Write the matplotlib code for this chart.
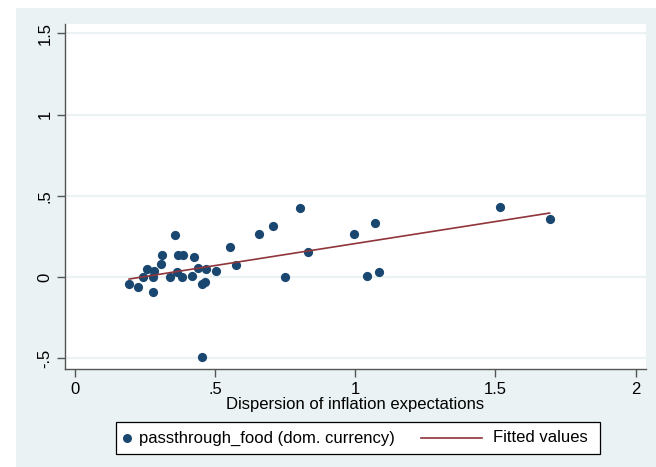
import numpy as np
import matplotlib
matplotlib.use("Agg")
import matplotlib.pyplot as plt
from matplotlib.patches import Rectangle
from matplotlib.lines import Line2D

plt.rcParams['font.family'] = ['Liberation Sans', 'DejaVu Sans']

dispersion = [0.193, 0.226, 0.242, 0.256, 0.277, 0.280, 0.283, 0.307, 0.312, 0.357,
              0.339, 0.363, 0.369, 0.385, 0.381, 0.425, 0.419, 0.438, 0.454, 0.464,
              0.466, 0.502, 0.452, 0.554, 0.574, 0.658, 0.708, 0.750, 0.804, 0.831,
              0.995, 1.069, 1.042, 1.083, 1.517, 1.693]
passthrough = [-0.043, -0.060, 0.000, 0.047, -0.090, 0.002, 0.035, 0.082, 0.135, 0.258,
               0.000, 0.031, 0.133, 0.137, 0.000, 0.123, 0.008, 0.057, -0.045, -0.031,
               0.047, 0.037, -0.490, 0.186, 0.072, 0.266, 0.312, 0.000, 0.426, 0.156,
               0.266, 0.332, 0.006, 0.029, 0.431, 0.355]

xticks = [0, 0.5, 1, 1.5, 2]
xtick_labels = ["0", ".5", "1", "1.5", "2"]
yticks = [-0.5, 0, 0.5, 1, 1.5]
ytick_labels = ["-.5", "0", ".5", "1", "1.5"]
legend_labels = ["passthrough_food (dom. currency)", "Fitted values"]

marker_color = "#1A476F"
line_color = "#90353B"
bg_color = "#EAF2F3"
fs = 12

W, H = 656, 467
fig = plt.figure(figsize=(W / 100, H / 100), dpi=100)
fig.patch.set_facecolor("white")
fig.add_artist(Rectangle((16 / W, 0), (W - 16) / W, (H - 8) / H,
                         transform=fig.transFigure, facecolor=bg_color,
                         edgecolor="none", zorder=-10))

left, right, top, bottom = 65, 646, 24, 369
ax = fig.add_axes([left / W, 1 - bottom / H, (right - left) / W, (bottom - top) / H])
ax.set_facecolor("white")

x = np.array(dispersion)
y = np.array(passthrough)
ax.scatter(x, y, s=44, color=marker_color, zorder=3, linewidths=0)

slope, intercept = np.polyfit(x, y, 1)
xs = np.array([x.min(), x.max()])
ax.plot(xs, intercept + slope * xs, color=line_color, lw=1.2, zorder=4)

ax.set_xlim(-0.0357, 2.037)
ax.set_ylim(-0.566, 1.557)
ax.set_xticks(xticks)
ax.set_xticklabels(xtick_labels)
ax.set_yticks(yticks)
ax.set_yticklabels(ytick_labels, rotation=90, va="center")
for yt in yticks:
    ax.axhline(yt, color=bg_color, lw=1.6, zorder=1)

for s in ["top", "right"]:
    ax.spines[s].set_visible(False)
for s in ["left", "bottom"]:
    ax.spines[s].set_color("#555555")
    ax.spines[s].set_linewidth(1.0)
ax.tick_params(direction="out", length=6, width=1, color="#555555",
               labelsize=fs, labelcolor="black", pad=3)

ax.set_xlabel("Dispersion of inflation expectations", fontsize=fs, labelpad=0)

# legend box (drawn manually to match Stata layout)
def fx(px):
    return px / W

def fy(py):
    return 1 - py / H

fig.add_artist(Rectangle((fx(116), fy(454)), fx(600) - fx(116), fy(422) - fy(454),
                         transform=fig.transFigure, facecolor="white",
                         edgecolor="black", linewidth=0.9, zorder=5))
ly = fy(438)
fig.add_artist(Line2D([fx(127)], [ly], marker="o", linestyle="none",
                      color=marker_color, markersize=6.5, markeredgewidth=0,
                      transform=fig.transFigure, zorder=6))
fig.text(fx(139), ly, legend_labels[0], fontsize=fs, va="center", ha="left", zorder=6)
fig.add_artist(Line2D([fx(421), fx(482)], [ly, ly], color=line_color, lw=1.2,
                      transform=fig.transFigure, zorder=6))
fig.text(fx(493), ly, legend_labels[1], fontsize=fs, va="center", ha="left", zorder=6)

fig.savefig("out.png", dpi=100)
